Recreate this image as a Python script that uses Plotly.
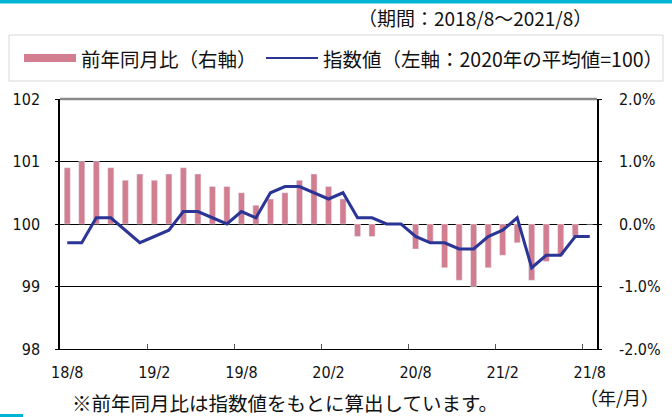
import plotly.graph_objects as go

months = ["18/8","18/9","18/10","18/11","18/12","19/1","19/2","19/3","19/4","19/5","19/6","19/7",
          "19/8","19/9","19/10","19/11","19/12","20/1","20/2","20/3","20/4","20/5","20/6","20/7",
          "20/8","20/9","20/10","20/11","20/12","21/1","21/2","21/3","21/4","21/5","21/6","21/7","21/8"]
yoy = [0.9,1.0,1.0,0.9,0.7,0.8,0.7,0.8,0.9,0.8,0.6,0.6,
       0.5,0.3,0.4,0.5,0.7,0.8,0.6,0.4,-0.2,-0.2,0.0,0.0,
       -0.4,-0.3,-0.7,-0.9,-1.0,-0.7,-0.5,-0.3,-0.9,-0.6,-0.5,-0.2,0.0]
index_vals = [99.7,99.7,100.1,100.1,99.9,99.7,99.8,99.9,100.2,100.2,100.1,100.0,
              100.2,100.1,100.5,100.6,100.6,100.5,100.4,100.5,100.1,100.1,100.0,100.0,
              99.8,99.7,99.7,99.6,99.6,99.8,99.9,100.1,99.3,99.5,99.5,99.8,99.8]
tick_labels = ["18/8","19/2","19/8","20/2","20/8","21/2","21/8"]
left_ticks = [98, 99, 100, 101, 102]
right_ticks = [-2.0, -1.0, 0.0, 1.0, 2.0]
bar_name = "前年同月比（右軸）"
line_name = "指数値（左軸：2020年の平均値=100）"

BAR_COLOR = "#d27d90"
LINE_COLOR = "#2b3596"

x = list(range(len(months)))
tick_pos = [months.index(t) for t in tick_labels]

W, H = 672, 417
L, R, T, B = 60, 75, 99, 68
PW, PH = W - L - R, H - T - B

def px(xp):  # pixel -> paper x
    return (xp - L) / PW

def py(yp):  # pixel -> paper y
    return 1 - (yp - T) / PH

NUMFONT = "DejaVu Sans Condensed, Liberation Sans Narrow, Noto Sans CJK JP, sans-serif"
JFONT = "Noto Sans CJK JP, sans-serif"

fig = go.Figure()
fig.add_trace(go.Bar(x=x, y=yoy, name=bar_name, marker_color=BAR_COLOR,
                     width=0.42, yaxis="y"))
fig.add_trace(go.Scatter(x=x, y=index_vals, name=line_name,
                         mode="lines", line=dict(color=LINE_COLOR, width=3), yaxis="y2"))

fig.update_layout(
    width=W, height=H,
    margin=dict(l=L, r=R, t=T, b=B, autoexpand=False),
    paper_bgcolor="white", plot_bgcolor="white",
    showlegend=False,
    xaxis=dict(range=[-0.5, len(months)-0.5], tickmode="array", tickvals=tick_pos,
               ticktext=tick_labels, ticks="", showgrid=False, zeroline=False,
               showline=True, linecolor="black", linewidth=1,
               tickfont=dict(family=NUMFONT, size=16, color="#111"), ticklabelstandoff=9,
               minor=dict(tickmode="array", tickvals=[p-0.5 for p in tick_pos[1:]],
                          ticks="inside", ticklen=5, tickcolor="#555", showgrid=False)),
    yaxis=dict(range=[-2, 2], side="right", tickmode="array", tickvals=right_ticks,
               ticktext=[f"{v:.1f}%" if v >= 0 else f"-{abs(v):.1f}%" for v in right_ticks],
               showgrid=True, gridcolor="black", gridwidth=1, zeroline=False,
               showline=True, linecolor="black", linewidth=1.5,
               ticks="outside", ticklen=3, tickcolor="black",
               tickfont=dict(family=NUMFONT, size=16, color="#111"), ticklabelstandoff=14),
    yaxis2=dict(range=[98, 102], side="left", overlaying="y", tickmode="array",
                tickvals=left_ticks, showgrid=False, zeroline=False,
                showline=True, linecolor="black", linewidth=1.5,
                ticks="outside", ticklen=3, tickcolor="black",
                tickfont=dict(family=NUMFONT, size=16, color="#111"), ticklabelstandoff=12),
)

# top gray frame line of plot area
fig.add_shape(type="line", xref="paper", yref="paper", x0=0, x1=1, y0=1, y1=1,
              line=dict(color="#8a8a8a", width=2.5), layer="above")
# decorative cyan bands
fig.add_shape(type="rect", xref="paper", yref="paper", x0=px(-2), x1=px(W + 2),
              y0=py(-4), y1=py(3.5), fillcolor="#00b4d4", line=dict(width=0))
fig.add_shape(type="rect", xref="paper", yref="paper", x0=px(0), x1=px(23),
              y0=py(414), y1=py(417), fillcolor="#00b4d4", line=dict(width=0))

# legend box and keys
fig.add_shape(type="rect", xref="paper", yref="paper", x0=px(9), x1=px(663),
              y0=py(35), y1=py(81), line=dict(color="#d8d8d8", width=1), fillcolor="white")
fig.add_shape(type="rect", xref="paper", yref="paper", x0=px(24), x1=px(76),
              y0=py(54), y1=py(62), fillcolor=BAR_COLOR, line=dict(width=0))
fig.add_shape(type="line", xref="paper", yref="paper", x0=px(266), x1=px(318),
              y0=py(58), y1=py(58), line=dict(color=LINE_COLOR, width=2))

ann = [
    (bar_name, 79, 58, "left", 19.5),
    (line_name, 321, 58, "left", 19.5),
    ("（期間：2018/8～2021/8）", 475, 18, "center", 19),
    ("※前年同月比は指数値をもとに算出しています。", 285, 402, "center", 19.5),
    ("（年/月）", 619, 397, "center", 18),
]
for text, xp, yp, anchor, size in ann:
    fig.add_annotation(text=text, xref="paper", yref="paper", x=px(xp), y=py(yp),
                       xanchor=anchor, yanchor="middle", showarrow=False,
                       font=dict(family=JFONT, size=size, color="#111"))

fig.write_html("out.html", config={"displayModeBar": False},
               post_script="document.body.style.margin='0px';document.body.style.padding='0px';")
